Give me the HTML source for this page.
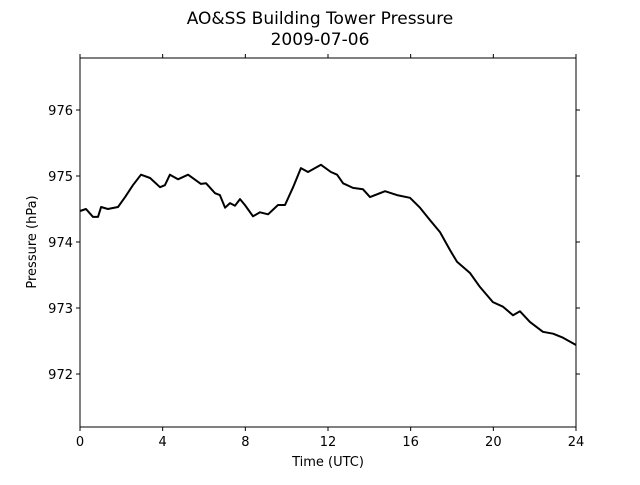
<!DOCTYPE html>
<html><head><meta charset="utf-8"><style>
body{margin:0;background:#fff}
svg text{font-family:"DejaVu Sans","Liberation Sans",sans-serif;fill:#000}
</style></head><body>
<svg id="chart" width="640" height="480" xmlns="http://www.w3.org/2000/svg">
<rect width="640" height="480" fill="#fff"/>
<text x="320" y="24" font-size="17" text-anchor="middle">AO&amp;SS Building Tower Pressure</text>
<text x="320" y="45" font-size="17" text-anchor="middle">2009-07-06</text>
<g id="plot"></g>
<rect x="80" y="58" width="496" height="369" fill="none" stroke="#000" stroke-width="1"/>
<text x="328" y="466" font-size="13" text-anchor="middle">Time (UTC)</text>
<text transform="translate(36,242) rotate(-90)" font-size="13" text-anchor="middle">Pressure (hPa)</text>
</svg>
<script>
const times=[0,0.29,0.63,0.87,1.02,1.35,1.84,2.18,2.56,2.95,3.39,3.87,4.11,4.35,4.74,5.23,5.85,6.10,6.53,6.77,7.02,7.26,7.50,7.74,7.98,8.37,8.71,9.10,9.58,9.92,10.31,10.69,11.03,11.66,12.14,12.44,12.73,13.21,13.69,14.03,14.76,15.34,15.97,16.45,16.94,17.42,17.90,18.24,18.87,19.35,19.98,20.47,20.95,21.29,21.77,22.40,22.89,23.37,24];
const pressures=[974.47,974.50,974.38,974.38,974.53,974.50,974.53,974.68,974.86,975.02,974.97,974.83,974.86,975.02,974.95,975.02,974.88,974.89,974.74,974.71,974.52,974.59,974.55,974.65,974.56,974.39,974.45,974.42,974.56,974.56,974.83,975.12,975.06,975.17,975.06,975.02,974.89,974.82,974.80,974.68,974.77,974.71,974.67,974.52,974.33,974.15,973.88,973.70,973.53,973.32,973.09,973.02,972.89,972.95,972.79,972.64,972.61,972.55,972.44];
const xTicks=[0,4,8,12,16,20,24];
const yTicks=[972,973,974,975,976];
const xDomain=[0,24], yDomain=[971.197,976.788];
const L=80,R=576,T=58,B=427;
const xs=v=>L+(v-xDomain[0])/(xDomain[1]-xDomain[0])*(R-L);
const ys=v=>B-(v-yDomain[0])/(yDomain[1]-yDomain[0])*(B-T);
const NS="http://www.w3.org/2000/svg";
const g=document.getElementById('plot');
function mk(tag,attrs){const e=document.createElementNS(NS,tag);for(const k in attrs)e.setAttribute(k,attrs[k]);g.appendChild(e);return e;}
xTicks.forEach(t=>{
  const x=xs(t);
  const a=mk('line',{x1:x,x2:x,y1:B,y2:B+4,stroke:'#000'});
  
  
  const b=mk('line',{x1:x,x2:x,y1:T,y2:T-4,stroke:'#000'});
  
  
  const l=mk('text',{x:x,y:B+19,'font-size':13,'text-anchor':'middle'});
  l.textContent=t;
  
  
});
yTicks.forEach(t=>{
  const y=ys(t);
  const a=mk('line',{x1:L-4,x2:L,y1:y,y2:y,stroke:'#000'});
  
  
  const b=mk('line',{x1:R,x2:R+4,y1:y,y2:y,stroke:'#000'});
  
  
  const l=mk('text',{x:L-7,y:y+5,'font-size':13,'text-anchor':'end'});
  l.textContent=t;
  
  
});
const d=times.map((t,i)=>(i?'L':'M')+xs(t).toFixed(1)+','+ys(pressures[i]).toFixed(1)).join(' ');
const p=mk('path',{d:d,fill:'none',stroke:'#000','stroke-width':2,'stroke-linejoin':'round'});


</script>
</body></html>
